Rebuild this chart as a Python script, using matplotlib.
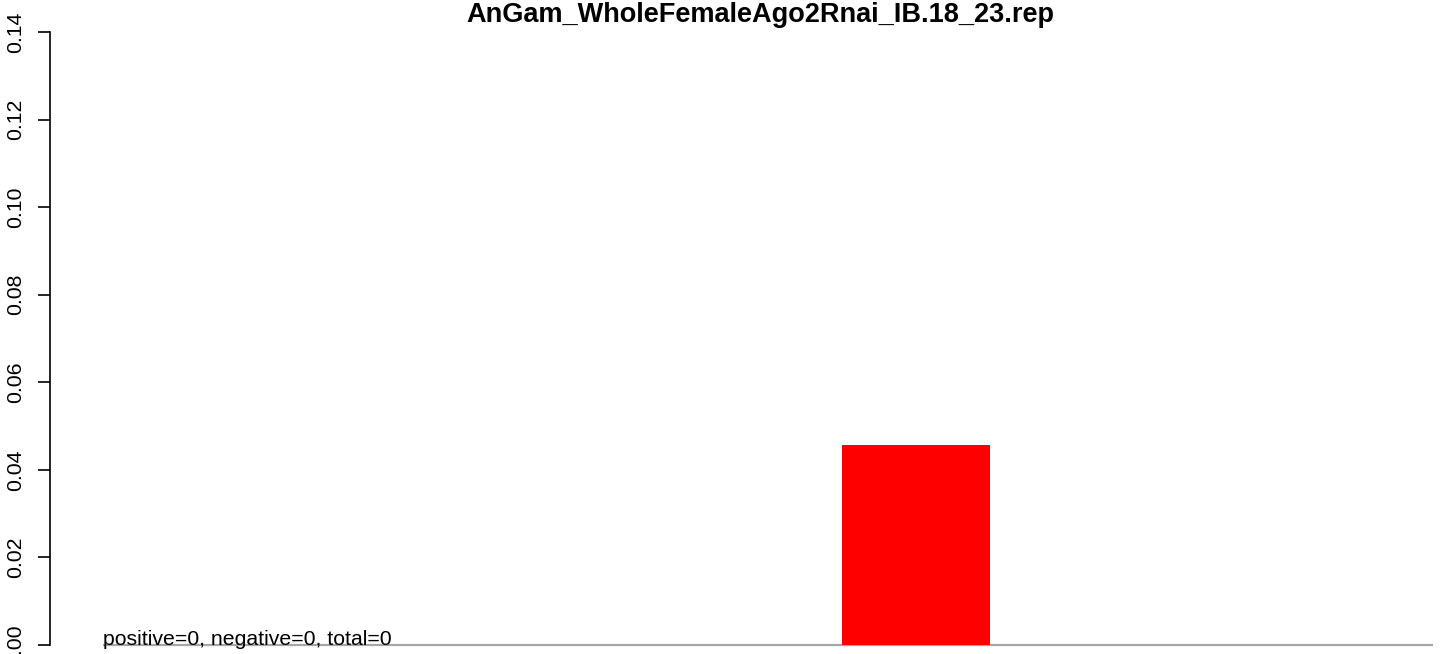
import numpy as np
import matplotlib
matplotlib.use("Agg")
import matplotlib.pyplot as plt

plt.rcParams['font.family'] = ['Liberation Sans', 'DejaVu Sans']

title = "AnGam_WholeFemaleAgo2Rnai_IB.18_23.rep"
note = "positive=0, negative=0, total=0"

# bar slots (width 1, no gap) and their heights
slots = np.arange(9)
heights = [0, 0, 0, 0, 0, 0.0457, 0, 0, 0]
yticks = [0.00, 0.02, 0.04, 0.06, 0.08, 0.10, 0.12, 0.14]

W, H = 1444, 654
fig = plt.figure(figsize=(W / 100, H / 100), dpi=100)

# plot region: y spine at x=50px, slot 0 starts at 103px, one slot = 147.8px
px_x = 147.8
left_px = 50
ax = fig.add_axes([left_px / W, 0, 1 - left_px / W, 1])
ax.set_xlim(-(103 - left_px) / px_x, (W - 103) / px_x)
px_y = (645 - 32) / 0.14
ax.set_ylim(-(H - 645) / px_y, 0.14 + 32 / px_y)

ax.hlines(0, slots[0], slots[-1] + 1, color="#a6a6a6", lw=1.6, zorder=1)
ax.bar(slots, heights, width=1, align="edge", color="#ff0000", linewidth=0, zorder=2)

ax.text(0, 0, note, ha="left", va="baseline", fontsize=15.3, zorder=3)

for s in ["top", "right", "bottom"]:
    ax.spines[s].set_visible(False)
ax.spines["left"].set_bounds(0, 0.14)
ax.spines["left"].set_linewidth(1.2)
ax.set_xticks([])
ax.set_yticks(yticks)
ax.set_yticklabels([f"{v:.2f}" for v in yticks], rotation=90, va="center",
                   fontsize=15.3)
ax.tick_params(axis="y", length=8.6, width=1.2, pad=9)

fig.text(760 / W, 1 - 22 / H, title, ha="center", va="baseline",
         fontsize=19.5, fontweight="bold")

fig.savefig("out.png", dpi=100)
